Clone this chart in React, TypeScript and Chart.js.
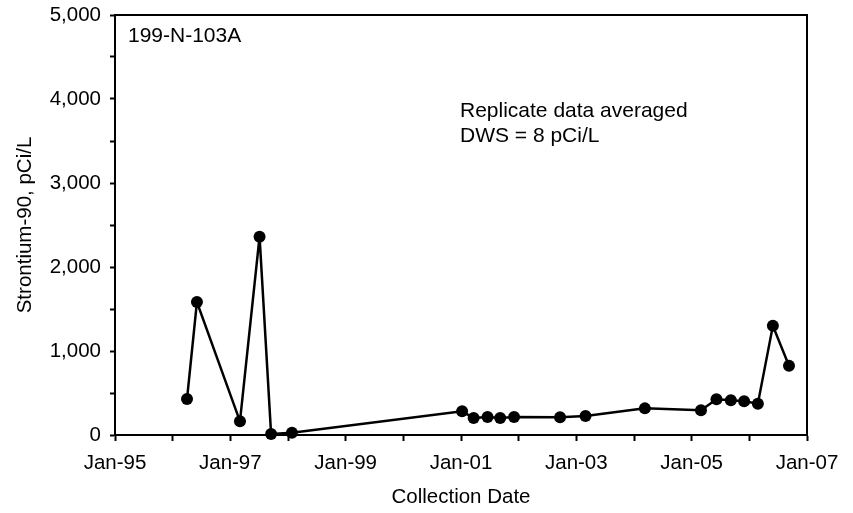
import React, { useEffect, useRef } from 'react';
import { Chart, registerables } from 'chart.js';

Chart.register(...registerables);

// Sample collection dates (YYYY-MM-DD) and Strontium-90 results (pCi/L)
const sampleDates = [
  '1996-04-01', '1996-06-03', '1997-03-03', '1997-07-05', '1997-09-16', '1998-01-26',
  '2001-01-08', '2001-03-22', '2001-06-18', '2001-09-06', '2001-12-03',
  '2002-09-20', '2003-02-28', '2004-03-10',
  '2005-03-01', '2005-06-07', '2005-09-06', '2005-11-29', '2006-02-24',
  '2006-05-30', '2006-09-09',
];
const sr90Values = [
  428, 1583, 163, 2361, 12, 28,
  282, 202, 214, 202, 214,
  210, 226, 317,
  294, 425, 413, 401, 373,
  1300, 825,
];

const xLabelYears = [1995, 1997, 1999, 2001, 2003, 2005, 2007];
const yLabelValues = [0, 1000, 2000, 3000, 4000, 5000];

const wellName = '199-N-103A';
const noteLines = ['Replicate data averaged', 'DWS = 8 pCi/L'];

const FAMILY = "'Liberation Sans', Arial, sans-serif";
const FONT_SIZE = 20.5;
const NOTE_SIZE = 21;

function toYear(s: string): number {
  const [y, m, d] = s.split('-').map(Number);
  const start = Date.UTC(y, 0, 1);
  const end = Date.UTC(y + 1, 0, 1);
  return y + (Date.UTC(y, m - 1, d) - start) / (end - start);
}

export default function App() {
  const ref = useRef<HTMLCanvasElement>(null);

  useEffect(() => {
    if (!ref.current) return;
    const boxPlugin = {
      id: 'boxAndNotes',
      beforeDatasetsDraw(chart: any) {
        const { ctx, chartArea: a } = chart;
        ctx.save();
        ctx.strokeStyle = '#000';
        ctx.lineWidth = 2;
        ctx.strokeRect(a.left, a.top, a.right - a.left, a.bottom - a.top);
        ctx.restore();
      },
      afterDraw(chart: any) {
        const { ctx, chartArea: a } = chart;
        ctx.save();
        ctx.fillStyle = '#000';
        ctx.font = `${NOTE_SIZE}px ${FAMILY}`;
        ctx.textAlign = 'left';
        ctx.textBaseline = 'alphabetic';
        ctx.fillText(wellName, a.left + 13, a.top + 27);
        noteLines.forEach((t, i) => {
          ctx.fillText(t, a.left + 345, a.top + 102 + i * 25);
        });
        ctx.restore();
      },
    };

    const chart = new Chart(ref.current, {
      type: 'line',
      data: {
        datasets: [
          {
            data: sampleDates.map((d, i) => ({ x: toYear(d), y: sr90Values[i] })),
            borderColor: '#000',
            backgroundColor: '#000',
            borderWidth: 2.5,
            pointRadius: 6,
            pointBackgroundColor: '#000',
            pointBorderColor: '#000',
            pointBorderWidth: 0,
            tension: 0,
            clip: false as any,
          },
        ],
      },
      options: {
        responsive: false,
        animation: false,
        layout: { padding: { top: 15, right: 46, left: 0, bottom: 0 } },
        plugins: { legend: { display: false }, tooltip: { enabled: false } },
        scales: {
          x: {
            type: 'linear',
            min: 1995,
            max: 2007,
            ticks: {
              stepSize: 1,
              autoSkip: false,
              maxRotation: 0,
              minRotation: 0,
              padding: 10,
              color: '#000',
              font: { family: FAMILY, size: FONT_SIZE },
              callback: (v: any) => {
                const n = Math.round(Number(v));
                return xLabelYears.includes(n) ? 'Jan-' + String(n % 100).padStart(2, '0') : '';
              },
            },
            grid: {
              drawOnChartArea: false,
              drawTicks: true,
              tickLength: 6,
              tickWidth: 2,
              tickColor: '#000',
            },
            border: { color: '#000', width: 2 },
            title: {
              display: true,
              text: 'Collection Date',
              color: '#000',
              font: { family: FAMILY, size: FONT_SIZE },
              padding: { top: 0, bottom: 3 },
            },
            afterFit: (s: any) => {
              s.height = 78;
              s.paddingLeft = 0;
              s.paddingRight = 0;
            },
          },
          y: {
            type: 'linear',
            min: 0,
            max: 5000,
            ticks: {
              stepSize: 500,
              autoSkip: false,
              padding: 9,
              color: '#000',
              font: { family: FAMILY, size: FONT_SIZE },
              callback: (v: any) => {
                const n = Math.round(Number(v));
                return yLabelValues.includes(n) ? n.toLocaleString('en-US') : '';
              },
            },
            grid: {
              drawOnChartArea: false,
              drawTicks: true,
              tickLength: 5,
              tickWidth: 2,
              tickColor: '#000',
            },
            border: { color: '#000', width: 2 },
            title: {
              display: true,
              text: 'Strontium-90, pCi/L',
              color: '#000',
              font: { family: FAMILY, size: FONT_SIZE },
              padding: { top: 13, bottom: 0 },
            },
            afterFit: (s: any) => {
              s.width = 115;
              s.paddingTop = 0;
              s.paddingBottom = 0;
            },
          },
        },
      },
      plugins: [boxPlugin],
    } as any);

    return () => chart.destroy();
  }, []);

  return (
    <div style={{ position: 'absolute', left: 0, top: 0, width: 853, height: 513, background: '#fff' }}>
      <canvas ref={ref} width={853} height={513} style={{ display: 'block', width: 853, height: 513 }} />
    </div>
  );
}
